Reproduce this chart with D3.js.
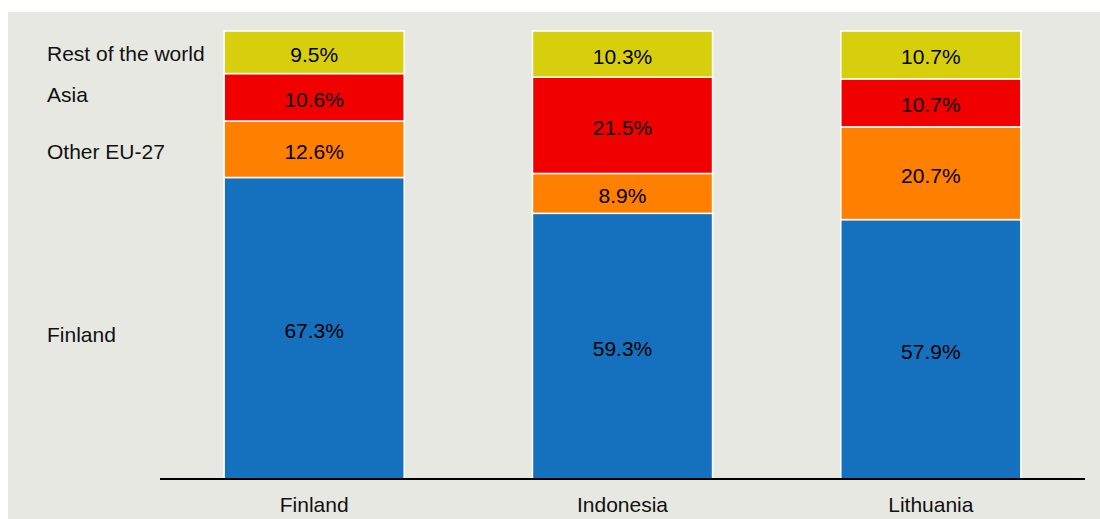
<!DOCTYPE html>
<html><head><meta charset="utf-8">
<script src="https://cdn.jsdelivr.net/npm/d3@7"></script>
<style>body{margin:0;background:#fff}svg{display:block}text{font-family:"Liberation Sans",Arial,sans-serif}</style>
</head><body>
<svg id="c" width="1100" height="519"></svg>
<script>
const categories = ["Finland", "Indonesia", "Lithuania"];
const seriesNames = ["Finland", "Other EU-27", "Asia", "Rest of the world"];
const finlandShare = [67.3, 59.3, 57.9];
const otherEU27 = [12.6, 8.9, 20.7];
const asia = [10.6, 21.5, 10.7];
const restOfWorld = [9.5, 10.3, 10.7];
const colors = ["#1570bd", "#ff7f00", "#f10000", "#d7cf0e"];

// layout: small vertical nudges of the left-hand series labels (px)
const labelNudge = {"Finland": 6, "Other EU-27": 2, "Asia": -3, "Rest of the world": 1};
const FS = 21;
const capHalf = FS * 0.358;

const rows = categories.map((c, i) => ({
  cat: c, "Finland": finlandShare[i], "Other EU-27": otherEU27[i],
  "Asia": asia[i], "Rest of the world": restOfWorld[i]
}));
const stack = d3.stack().keys(seriesNames)(rows);

const svg = d3.select("#c");
svg.append("rect").attr("x", 8).attr("y", 12).attr("width", 1092).attr("height", 507).attr("fill", "#e8e8e3");

const x = d3.scaleBand().domain(categories).range([160, 1085]).paddingInner(0.416).paddingOuter(0.208);
const y = d3.scaleLinear().domain([0, 100]).range([479, 31]);
const color = d3.scaleOrdinal().domain(seriesNames).range(colors);

const g = svg.append("g");
stack.forEach(s => {
  const gs = g.append("g");
  gs.selectAll("rect").data(s).join("rect")
    .attr("x", d => x(d.data.cat))
    .attr("y", d => y(d[1]))
    .attr("width", x.bandwidth())
    .attr("height", d => y(d[0]) - y(d[1]))
    .attr("fill", color(s.key))
    .attr("stroke", "#fff").attr("stroke-width", 1.5);
  gs.selectAll("text").data(s).join("text")
    .attr("x", d => x(d.data.cat) + x.bandwidth() / 2)
    .attr("y", d => (y(d[0]) + y(d[1])) / 2 + 2 + capHalf)
    .attr("text-anchor", "middle")
    .attr("font-size", FS).attr("fill", "#000")
    .text(d => (d[1] - d[0]).toFixed(1) + "%");
});

// series labels on left, aligned to first bar segments
svg.append("g").selectAll("text").data(stack).join("text")
  .attr("x", 47)
  .attr("y", s => (y(s[0][0]) + y(s[0][1])) / 2 + capHalf + labelNudge[s.key])
  .attr("font-size", FS).attr("fill", "#111")
  .text(s => s.key);

const axis = d3.axisBottom(x).tickSize(0).tickPadding(0);
const ax = svg.append("g").attr("transform", "translate(0,479)").call(axis);
ax.select(".domain").attr("stroke", "#000").attr("stroke-width", 2).attr("d", "M160,0H1085");
ax.selectAll(".tick text").attr("dy", null).attr("y", 33)
  .attr("font-size", FS).attr("fill", "#111").attr("font-family", "Liberation Sans, Arial, sans-serif");
</script>
</body></html>
